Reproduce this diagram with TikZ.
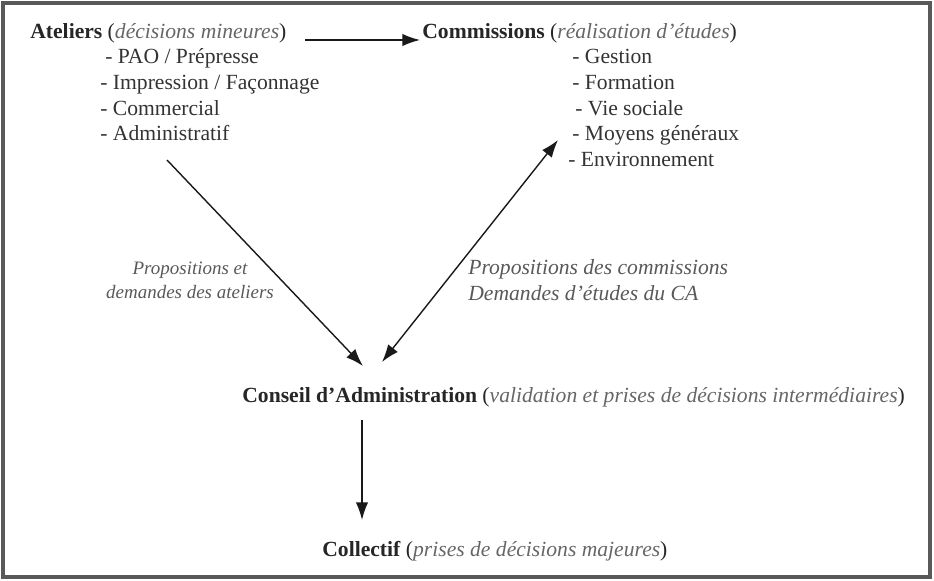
\documentclass[tikz,border=0pt]{standalone}
\usepackage{fontspec}
\setmainfont{Liberation Serif}
\usetikzlibrary{arrows.meta}
\begin{document}
\begin{tikzpicture}[x=0.02cm,y=-0.02cm,>={Latex[length=10pt,width=7pt]}]
				\tikzstyle{title}=[anchor=base west,inner sep=0pt,text=black!85,font=\fontsize{12.3}{15}\selectfont]
				\tikzstyle{item}=[anchor=base west,inner sep=0pt,text=black!80,font=\fontsize{12.3}{15}\selectfont]
				\tikzstyle{note}=[inner sep=0pt,text=black!65,align=center,font=\fontsize{12.3}{14.5}\itshape]
				\tikzstyle{edge}=[draw=black!90, thick]
				\useasboundingbox (0,0) rectangle (934,581);
				\draw[black!65,line width=2pt] (3,3) rectangle (930,577);

				 \node [title] (ateliers) at (30,39) {\textbf{Ateliers} (\textcolor{black!60}{\itshape décisions mineures})};
				 \node [item] (pao) at (105,64) {- PAO / Prépresse};
				 \node [item] (impr) at (100,90) {- Impression / Façonnage};
				 \node [item] (comm) at (100,116) {- Commercial};
				 \node [item] (admin) at (100,141) {- Administratif};

				 \node [title] (commissions) at (422,39) {\textbf{Commissions} (\textcolor{black!60}{\itshape réalisation d'études})};
				 \node [item] (gestion) at (572,64) {- Gestion};
				 \node [item] (formation) at (572,90) {- Formation};
				 \node [item] (vie) at (575,116) {- Vie sociale};
				 \node [item] (moyens) at (572,141) {- Moyens généraux};
				 \node [item] (env) at (568,167) {- Environnement};

				 \node [note,font=\fontsize{10.8}{13.5}\itshape] (propA) at (190,280) {Propositions et\\demandes des ateliers};
				 \node [note,align=left,anchor=west] (propC) at (468,280) {Propositions des commissions\\Demandes d'études du CA};

				 \node [title] (ca) at (242,402) {\textbf{Conseil d'Administration} (\textcolor{black!60}{\itshape validation et prises de décisions intermédiaires})};
				 \node [title] (collectif) at (322,556) {\textbf{Collectif} (\textcolor{black!60}{\itshape prises de décisions majeures})};

				 \coordinate (a1) at (305,40);
				 \coordinate (a2) at (420,40);
				 \coordinate (b1) at (167,160);
				 \coordinate (b2) at (363,366);
				 \coordinate (c1) at (558,140);
				 \coordinate (c2) at (382,362);
				 \coordinate (d1) at (362,420);
				 \coordinate (d2) at (362,520);

				 \path[edge,->] (a1) -- (a2);
				 \path[edge,->] (b1) -- (b2);
				 \path[edge,<->] (c2) -- (c1);
				 \path[edge,->] (d1) -- (d2);
			\end{tikzpicture}
\end{document}
